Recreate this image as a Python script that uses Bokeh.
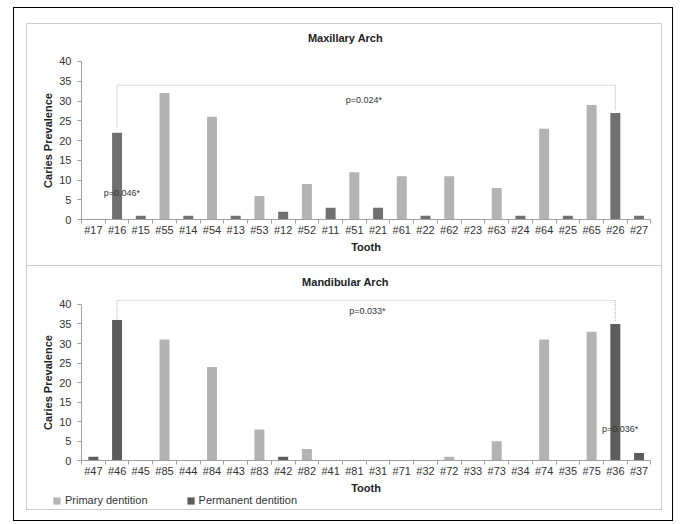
from bokeh.plotting import figure
from bokeh.layouts import column
from bokeh.models import ColumnDataSource, Range1d, FixedTicker, Legend, LegendItem
from bokeh.core.properties import value
from bokeh.embed import file_html
from bokeh.resources import INLINE

# ---------------- data ----------------
max_teeth = ["#17", "#16", "#15", "#55", "#14", "#54", "#13", "#53", "#12", "#52", "#11", "#51",
             "#21", "#61", "#22", "#62", "#23", "#63", "#24", "#64", "#25", "#65", "#26", "#27"]
max_values = [0, 22, 1, 32, 1, 26, 1, 6, 2, 9, 3, 12, 3, 11, 1, 11, 0, 8, 1, 23, 1, 29, 27, 1]

mand_teeth = ["#47", "#46", "#45", "#85", "#44", "#84", "#43", "#83", "#42", "#82", "#41", "#81",
              "#31", "#71", "#32", "#72", "#33", "#73", "#34", "#74", "#35", "#75", "#36", "#37"]
mand_values = [1, 36, 0, 31, 0, 24, 0, 8, 1, 3, 0, 0, 0, 0, 0, 1, 0, 5, 0, 31, 0, 33, 35, 2]

y_ticks = [0, 5, 10, 15, 20, 25, 30, 35, 40]

# significance annotations: (tooth A, tooth B, bracket level, end A, end B, label)
max_bracket = ("#16", "#26", 34.0, 23.3, 27.5, "p=0.024*")
max_label2 = ("p=0.046*", 1.2, 6.8)
max_label1_pos = (11.4, 30.2)
mand_bracket = ("#46", "#36", 41.1, 36.0, 35.8, "p=0.033*")
mand_label2 = ("p=0.036*", 22.2, 8.2)
mand_label1_pos = (11.55, 38.3)

PRIMARY = "#b3b3b3"
FONT = "Liberation Sans"
AXIS_GRAY = "#a0a0a0"
X_VIEW = (-2.775, 24.03)


def is_primary(t):
    return t[1] in "5678"


def make_fig(title, h, y_view, standoff):
    p = figure(width=636, height=h, output_backend="svg", toolbar_location=None,
               x_range=Range1d(*X_VIEW), y_range=Range1d(*y_view),
               min_border=0, min_border_left=0, min_border_right=0,
               min_border_bottom=0, min_border_top=0, title=title)
    p.title.align = "center"
    p.title.vertical_align = "top"
    p.title.text_font = FONT
    p.title.text_font_size = "11px"
    p.title.text_font_style = "bold"
    p.title.text_color = "#222222"
    p.title.standoff = standoff
    p.outline_line_color = None
    p.grid.visible = False
    return p


def add_bars(p, teeth, values, perm_color):
    idx = list(range(len(teeth)))
    prim = ColumnDataSource(dict(x=[i for i in idx if is_primary(teeth[i])],
                                 y=[values[i] for i in idx if is_primary(teeth[i])]))
    perm = ColumnDataSource(dict(x=[i for i in idx if not is_primary(teeth[i])],
                                 y=[values[i] for i in idx if not is_primary(teeth[i])]))
    r1 = p.vbar(x="x", top="y", width=0.42, source=prim, fill_color=PRIMARY, line_color=None)
    r2 = p.vbar(x="x", top="y", width=0.42, source=perm, fill_color=perm_color,
                line_color=None)
    return r1, r2


def add_annotations(p, teeth, bracket, lab1_pos, lab2):
    a, b, lvl, ea, eb, lab = bracket
    ia, ib = teeth.index(a), teeth.index(b)
    p.line([ia, ia, ib, ib], [ea, lvl, lvl, eb], line_color="#b0b0b0", line_width=1,
           line_dash="1 1")
    for t, x, y in [(lab, lab1_pos[0], lab1_pos[1]), lab2]:
        p.text([x], [y], text=[t], text_font=value(FONT), text_font_size="9px",
               text_color="#333333", text_align="center", text_baseline="middle")


def style_axes(p, teeth):
    n = len(teeth)
    idx = list(range(n))
    xa = p.xaxis[0]
    xa.fixed_location = 0
    xa.ticker = FixedTicker(ticks=idx, minor_ticks=[i - 0.5 for i in range(n + 1)])
    xa.major_label_overrides = {i: teeth[i] for i in idx}
    xa.bounds = (-0.5, n - 0.5)
    xa.major_tick_line_color = None
    xa.major_tick_out = 0
    xa.major_tick_in = 0
    xa.minor_tick_out = 4
    xa.minor_tick_in = 0
    xa.minor_tick_line_color = AXIS_GRAY
    xa.axis_line_color = AXIS_GRAY
    xa.major_label_text_font = FONT
    xa.major_label_text_font_size = "11px"
    xa.major_label_text_color = "#333333"
    xa.major_label_standoff = 0
    xa.axis_label = "Tooth"
    xa.axis_label_text_font = FONT
    xa.axis_label_text_font_size = "11px"
    xa.axis_label_text_font_style = "bold"
    xa.axis_label_text_color = "#222222"
    xa.axis_label_standoff = 2

    ya = p.yaxis[0]
    ya.fixed_location = -0.5
    ya.ticker = FixedTicker(ticks=y_ticks, minor_ticks=[])
    ya.bounds = (0, 40)
    ya.major_tick_out = 4
    ya.major_tick_in = 0
    ya.major_tick_line_color = AXIS_GRAY
    ya.axis_line_color = AXIS_GRAY
    ya.major_label_text_font = FONT
    ya.major_label_text_font_size = "11px"
    ya.major_label_text_color = "#333333"
    ya.major_label_standoff = 6
    ya.axis_label = "Caries Prevalence"
    ya.axis_label_text_font = FONT
    ya.axis_label_text_font_size = "11px"
    ya.axis_label_text_font_style = "bold"
    ya.axis_label_text_color = "#222222"
    ya.axis_label_standoff = 2


# ---------------- top panel: Maxillary ----------------
p1 = make_fig("Maxillary Arch", 243, (-12.08, 42.01), 15)
add_bars(p1, max_teeth, max_values, "#707070")
add_annotations(p1, max_teeth, max_bracket, max_label1_pos, max_label2)
style_axes(p1, max_teeth)
p1.styles = {"border": "1px solid #cccccc"}

# ---------------- bottom panel: Mandibular ----------------
p2 = make_fig("Mandibular Arch", 244, (-12.74, 41.27), 19)
r1, r2 = add_bars(p2, mand_teeth, mand_values, "#5c5c5c")
add_annotations(p2, mand_teeth, mand_bracket, mand_label1_pos, mand_label2)
style_axes(p2, mand_teeth)
leg = Legend(items=[LegendItem(label="Primary dentition", renderers=[r1]),
                    LegendItem(label="Permanent dentition", renderers=[r2])],
             orientation="horizontal", location=(25, 4),
             label_text_font=FONT, label_text_font_size="11px",
             label_text_color="#333333", glyph_width=9, glyph_height=9,
             label_standoff=4, spacing=38, padding=0, margin=0,
             label_height=11, border_line_color=None, background_fill_alpha=0)
p2.add_layout(leg, "center")
p2.styles = {"border": "1px solid #cccccc", "border-top": "none"}

layout = column(p1, p2, styles={"border": "1px solid #000000",
                                "padding": "15px 10px 10px 12px"})
layout.margin = (7, 0, 0, 13)

open("out.html", "w").write(file_html(layout, INLINE))
